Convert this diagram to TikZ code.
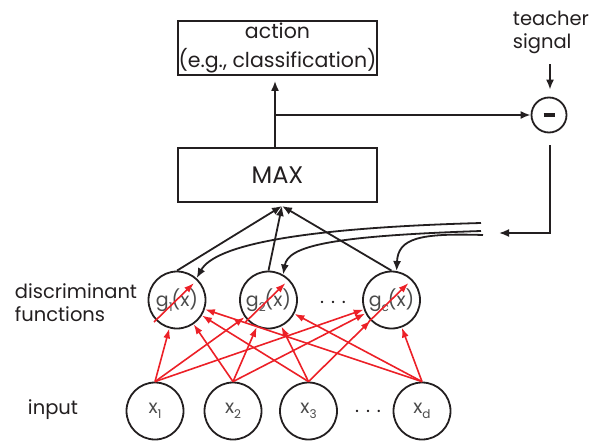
\documentclass[tikz,border=0pt]{standalone}
\usepackage{fontspec}
\setmainfont{Poppins}
\usetikzlibrary{arrows.meta}
\definecolor{arrred}{RGB}{236,32,39}
\definecolor{ink}{RGB}{35,31,32}
\definecolor{circtext}{RGB}{75,75,75}
\newcommand{\mysub}[1]{\raisebox{-0.5ex}{\fontsize{12}{12}\selectfont #1}}
\begin{document}
\begin{tikzpicture}[x=1pt,y=-1pt,line width=1.8pt,
  box/.style={draw=ink,rectangle,minimum width=199pt,minimum height=54pt,inner sep=0pt,text=ink,align=center},
  unit/.style={draw=ink,circle,minimum size=57pt,inner sep=0pt,text=circtext,font=\fontsize{19}{19}\selectfont},
  blk/.style={draw=ink,-{Latex[length=10pt,width=8pt]}},
  redarr/.style={draw=arrred,line width=1.6pt,-{Latex[length=10pt,width=7pt]}},
  lbl/.style={text=ink,align=left,font=\fontsize{19.5}{23}\selectfont,inner sep=0pt}]
\useasboundingbox (0,0) rectangle (597,442);
% boxes
\node[box,font=\fontsize{20.5}{29}\selectfont] (act) at (277.5,48) {action\\(e.g., classification)};
\node[box,font=\fontsize{24}{24}\selectfont] (max) at (277.5,175) {MAX};
% teacher
\node[lbl,anchor=west] (teach) at (512,32) {teacher\\signal};
\node[draw=ink,circle,minimum size=35pt,inner sep=0pt] (minus) at (549,115) {};
\draw[ink,line width=3.2pt] (543.5,115) -- (554.5,115);
% discriminant units
\node[unit] (g1) at (177,300) {g\mysub{1}\hspace{-1pt}(x)};
\node[unit] (g2) at (268.5,300) {g\mysub{2}\hspace{-1pt}(x)};
\node[unit] (gc) at (391.5,300) {g\mysub{c}\hspace{-1pt}(x)};
% inputs
\node[unit] (x1) at (155,411) {x\mysub{1}};
\node[unit] (x2) at (233,411) {x\mysub{2}};
\node[unit] (x3) at (308.5,411) {x\mysub{3}};
\node[unit] (xd) at (422,411) {x\mysub{d}};
% dots and labels
\node[text=ink,font=\fontsize{19}{19}\selectfont,inner sep=0pt] (gdots) at (333,302) {.\hspace{7pt}.\hspace{7pt}.};
\node[text=ink,font=\fontsize{19}{19}\selectfont,inner sep=0pt] (xdots) at (368,411) {.\hspace{7pt}.\hspace{7pt}.};
\node[lbl,anchor=west] (disc) at (14,303) {discriminant\\functions};
\node[lbl] (inp) at (53,410) {input};
% red weights
\foreach \s in {x1,x2,x3,xd}{
  \foreach \t in {g1,g2,gc}{
    \draw[redarr] (\s.north) -- (\t);
  }
}
\foreach \t in {g1,g2,gc}{
  \draw[redarr] ([shift={(-23,22)}]\t.center) -- ([shift={(17,-17)}]\t.center);
}
% outputs to MAX
\coordinate (mx) at (282,206);
\foreach \t in {g1,g2,gc}{
  \draw[blk] (\t.north) -- (mx);
}
% MAX to action and branch to comparator
\coordinate (vb) at (275,148);
\coordinate (br) at (275,115);
\draw[blk,shorten >=5pt] (vb) -- (vb |- act.south);
\draw[blk] (br) -- (minus.west);
\coordinate (ts) at (550,64);
\draw[blk,shorten >=7pt] (ts) -- (ts |- minus.north);
% feedback
\coordinate (fbtop) at (550,145);
\coordinate (fbend) at (499,233);
\draw[blk] (fbtop) |- (fbend);
\coordinate (f1) at (481,223);
\coordinate (f2) at (481,231);
\coordinate (f3) at (483,235);
\draw[blk] (f1) .. controls (300,228) and (215,245) .. (g1.48);
\draw[blk] (f2) .. controls (330,236) and (288,246) .. (g2.60);
\draw[blk] (f3) .. controls (420,233) and (398,238) .. (gc.80);
\end{tikzpicture}
\end{document}
